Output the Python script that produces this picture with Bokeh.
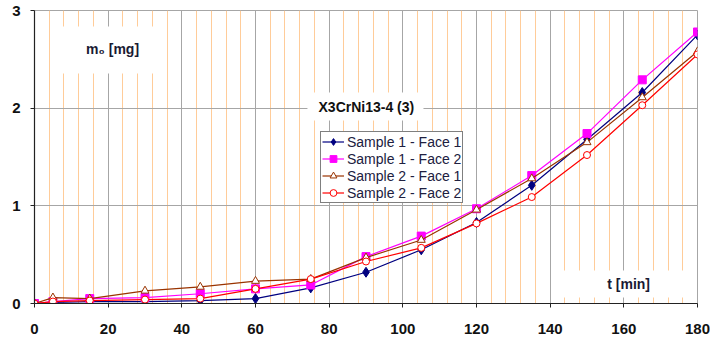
from bokeh.plotting import figure
from bokeh.models import (Range1d, FixedTicker, Legend, LegendItem, Label,
                          BoxAnnotation)
from bokeh.embed import file_html
from bokeh.resources import INLINE

# ---- data ----
t_min = [0, 5, 15, 30, 45, 60, 75, 90, 105, 120, 135, 150, 165, 180]
s1_face1 = [0.00, 0.01, 0.02, 0.02, 0.03, 0.05, 0.16, 0.32, 0.55, 0.83, 1.21, 1.68, 2.16, 2.75]
s1_face2 = [0.00, 0.02, 0.05, 0.06, 0.10, 0.15, 0.19, 0.48, 0.69, 0.97, 1.31, 1.74, 2.29, 2.78]
s2_face1 = [0.00, 0.06, 0.05, 0.13, 0.17, 0.23, 0.25, 0.47, 0.65, 0.96, 1.28, 1.65, 2.11, 2.58]
s2_face2 = [0.00, 0.02, 0.03, 0.04, 0.05, 0.15, 0.25, 0.43, 0.57, 0.82, 1.09, 1.52, 2.03, 2.55]
series_names = ["Sample 1 - Face 1", "Sample 1 - Face 2",
                "Sample 2 - Face 1", "Sample 2 - Face 2"]
x_ticks = [0, 20, 40, 60, 80, 100, 120, 140, 160, 180]
x_minor_ticks = [v for v in range(0, 181, 4) if v % 20 != 0]
y_ticks = [0, 1, 2, 3]
title_text = "X3CrNi13-4 (3)"
y_label = "m\u2080 [mg]"
x_label = "t [min]"

FONT = "Liberation Sans"
GRAY = "#A6A6A6"
ORANGE = "#FFCC99"

p = figure(width=710, height=336, output_backend="svg", toolbar_location=None,
           x_range=Range1d(0, 180), y_range=Range1d(0, 3),
           min_border_left=34, min_border_right=13, min_border_top=10,
           min_border_bottom=33)
p.background_fill_color = "white"
p.border_fill_color = "white"
p.outline_line_color = GRAY

p.xaxis.ticker = FixedTicker(ticks=x_ticks, minor_ticks=x_minor_ticks)
p.yaxis.ticker = FixedTicker(ticks=y_ticks)
for ax in (p.xaxis, p.yaxis):
    ax.axis_line_color = "#222222"
    ax.axis_line_width = 1.2
    ax.major_tick_line_color = "#222222"
    ax.major_tick_out = 4
    ax.major_tick_in = 0
    ax.minor_tick_line_color = None
    ax.major_label_text_font = FONT
    ax.major_label_text_font_style = "bold"
    ax.major_label_text_font_size = "15px"
    ax.major_label_text_color = "#111111"
p.xaxis.major_label_standoff = 16
p.yaxis.major_label_standoff = 10

p.xgrid.grid_line_color = GRAY
p.xgrid.minor_grid_line_color = ORANGE
p.ygrid.grid_line_color = GRAY

# white text boxes covering the grid
for (l, r, b, tp) in [(5.7, 34.2, 2.355, 2.836), (142.8, 178.1, 0.061, 0.338),
                      (74.1, 105.6, 1.874, 2.16)]:
    p.add_layout(BoxAnnotation(left=l, right=r, bottom=b, top=tp,
                               fill_color="white", fill_alpha=1.0,
                               line_color=None))

colors = ["#000080", "#FF00FF", "#993300", "#FF0000"]
markers = ["diamond", "square", "triangle", "circle"]
sizes = [10, 8, 8, 7]
fills = ["#000080", "#FF00FF", "white", "white"]
data = [s1_face1, s1_face2, s2_face1, s2_face2]

items = []
for name, ys, c, m, s, f in zip(series_names, data, colors, markers, sizes, fills):
    ln = p.line(t_min, ys, line_color=c, line_width=1.2)
    sc = p.scatter(t_min, ys, marker=m, size=s, line_color=c, fill_color=f,
                   line_width=1)
    items.append(LegendItem(label=name, renderers=[ln, sc]))

legend = Legend(items=items, location=(286, 100), orientation="vertical")
legend.background_fill_color = "white"
legend.background_fill_alpha = 1.0
legend.border_line_color = "#000000"
legend.border_line_width = 1
legend.padding = 1
legend.margin = 0
legend.spacing = 0
legend.label_height = 17
legend.glyph_height = 17
legend.glyph_width = 22
legend.label_standoff = 3
legend.label_text_font = FONT
legend.label_text_font_size = "14px"
legend.label_text_color = "#202040"
p.add_layout(legend, "center")

p.add_layout(Label(x=90.1, y=2.007, text=title_text, text_font=FONT,
                   text_font_style="bold", text_font_size="14px",
                   text_color="#111111", text_align="center",
                   text_baseline="middle"))
p.add_layout(Label(x=21.2, y=2.61, text=y_label, text_font=FONT,
                   text_font_style="bold", text_font_size="14px",
                   text_color="#1a1a33", text_align="center",
                   text_baseline="middle"))
p.add_layout(Label(x=161.3, y=0.195, text=x_label, text_font=FONT,
                   text_font_style="bold", text_font_size="14px",
                   text_color="#1a1a33", text_align="center",
                   text_baseline="middle"))

open("out.html", "w").write(file_html(p, INLINE))
